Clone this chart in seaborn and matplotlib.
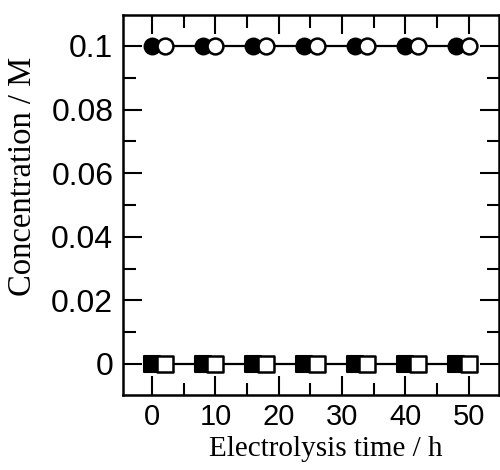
import matplotlib
matplotlib.use("Agg")
import matplotlib.pyplot as plt
import seaborn as sns
import pandas as pd
from matplotlib.ticker import MultipleLocator

# Data
time_filled = [0, 8, 16, 24, 32, 40, 48]
time_open = [2, 10, 18, 26, 34, 42, 50]
conc_circle_filled = [0.1, 0.1, 0.1, 0.1, 0.1, 0.1, 0.1]
conc_circle_open = [0.1, 0.1, 0.1, 0.1, 0.1, 0.1, 0.1]
conc_square_filled = [0.0, 0.0, 0.0, 0.0, 0.0, 0.0, 0.0]
conc_square_open = [0.0, 0.0, 0.0, 0.0, 0.0, 0.0, 0.0]
x_ticks = [0, 10, 20, 30, 40, 50]
y_ticks = [0, 0.02, 0.04, 0.06, 0.08, 0.1]
y_tick_labels = ["0", "0.02", "0.04", "0.06", "0.08", "0.1"]

sns.set_style("ticks")
plt.rcParams["font.family"] = ["Liberation Sans", "DejaVu Sans"]

fig = plt.figure(figsize=(5, 4.7), dpi=100)
ax = fig.add_axes([0.246, 0.16, 0.752, 0.808])

circ = pd.DataFrame({
    "t": time_filled + time_open,
    "c": conc_circle_filled + conc_circle_open,
}).sort_values("t")
sq = pd.DataFrame({
    "t": time_filled + time_open,
    "c": conc_square_filled + conc_square_open,
}).sort_values("t")

for df in (circ, sq):
    sns.lineplot(data=df, x="t", y="c", color="black", linewidth=1.6,
                 ax=ax, sort=False, estimator=None, zorder=2)

ms = 130
sns.scatterplot(x=time_filled, y=conc_circle_filled, marker="o", s=ms,
                facecolor="black", edgecolor="black", linewidth=1.5, ax=ax, zorder=3)
sns.scatterplot(x=time_open, y=conc_circle_open, marker="o", s=ms,
                facecolor="white", edgecolor="black", linewidth=1.8, ax=ax, zorder=4)
sns.scatterplot(x=time_filled, y=conc_square_filled, marker="s", s=ms,
                facecolor="black", edgecolor="black", linewidth=1.5, ax=ax, zorder=3)
sns.scatterplot(x=time_open, y=conc_square_open, marker="s", s=ms,
                facecolor="white", edgecolor="black", linewidth=1.8, ax=ax, zorder=4)

ax.set_xlim(-4.6, 54.8)
ax.set_ylim(-0.0097, 0.1097)
ax.set_xticks(x_ticks)
ax.set_yticks(y_ticks)
ax.set_yticklabels(y_tick_labels)
ax.xaxis.set_minor_locator(MultipleLocator(5))
ax.yaxis.set_minor_locator(MultipleLocator(0.01))

ax.tick_params(which="both", direction="in", top=True, right=True,
               width=1.5, color="black", labelcolor="black")
ax.tick_params(which="major", length=14)
ax.tick_params(which="minor", length=9)
ax.tick_params(axis="y", which="major", pad=7, labelsize=23)
ax.tick_params(axis="x", which="major", pad=6, labelsize=21)

for sp in ax.spines.values():
    sp.set_visible(True)
    sp.set_linewidth(1.8)
    sp.set_color("black")

ax.set_xlabel("Electrolysis time / h", family=["Liberation Serif"], fontsize=21, color="black")
ax.set_ylabel("Concentration / M", family=["Liberation Serif"], fontsize=23.5, color="black")
ax.xaxis.set_label_coords(0.54, -0.108)
ax.yaxis.set_label_coords(-0.226, 0.576)

fig.savefig("out.png", dpi=100)
